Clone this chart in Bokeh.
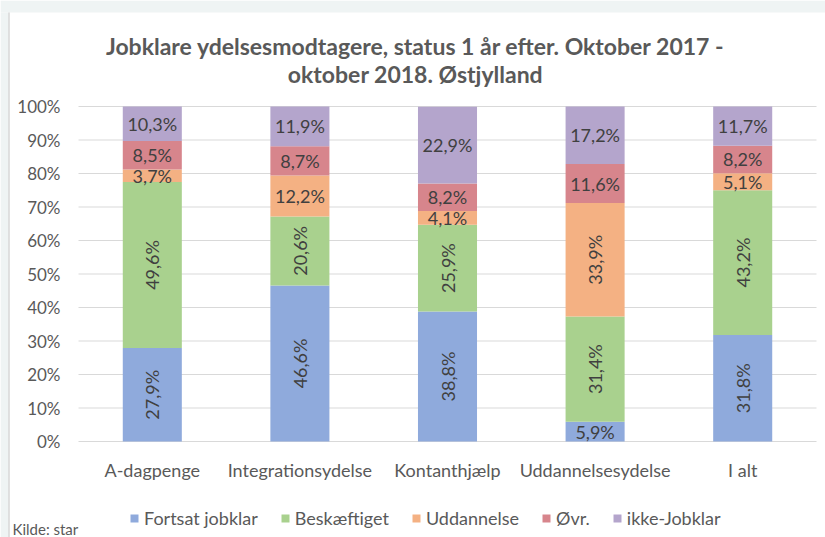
from bokeh.plotting import figure
from bokeh.models import (ColumnDataSource, Range1d, Legend, LegendItem, LinearAxis,
                          NumeralTickFormatter, FixedTicker, Label)
from bokeh.core.properties import value
from bokeh.embed import file_html
from bokeh.resources import INLINE
import math

# ---- data ----
categories = ["A-dagpenge", "Integrationsydelse", "Kontanthjælp", "Uddannelsesydelse", "I alt"]
series = ["Fortsat jobklar", "Beskæftiget", "Uddannelse", "Øvr.", "ikke-Jobklar"]
fortsat_jobklar = [27.9, 46.6, 38.8, 5.9, 31.8]
beskaeftiget = [49.6, 20.6, 25.9, 31.4, 43.2]
uddannelse = [3.7, 12.2, 4.1, 33.9, 5.1]
oevr = [8.5, 8.7, 8.2, 11.6, 8.2]
ikke_jobklar = [10.3, 11.9, 22.9, 17.2, 11.7]
y_ticks = [0, 0.1, 0.2, 0.3, 0.4, 0.5, 0.6, 0.7, 0.8, 0.9, 1.0]
title_lines = ["Jobklare ydelsesmodtagere, status 1 år efter. Oktober 2017 -",
               "oktober 2018. Østjylland"]
source_note = "Kilde: star"

# ---- style ----
colors = ["#8faadc", "#a9d18e", "#f4b183", "#d7858c", "#b4a5cc"]
FONT = "Lato"
TXT = "#595959"
LBL = "#404040"
GRID = "#d9d9d9"
BAND = "#eff4f4"
W, H = 825, 537
PX_X = 147.6   # pixels per category
PX_Y = 335.0   # pixels per 100 %
LEFT, TOP = 78, 106


def dx(px):
    return (px - LEFT) / PX_X


def dy(py):
    return (TOP + PX_Y - py) / PX_Y


ncat = len(categories)
xs = [i + 0.5 for i in range(ncat)]
x_range = Range1d(dx(0), dx(W))
y_range = Range1d(dy(H), dy(0))

values_all = [fortsat_jobklar, beskaeftiget, uddannelse, oevr, ikke_jobklar]
keys = ["s0", "s1", "s2", "s3", "s4"]
data = {"x": xs}
for k, v in zip(keys, values_all):
    data[k] = [x / 100 for x in v]
source = ColumnDataSource(data)

p = figure(x_range=x_range, y_range=y_range, width=W, height=H,
           output_backend="svg", toolbar_location=None,
           x_axis_location=None, y_axis_location=None,
           min_border=0, min_border_left=0, min_border_right=0,
           min_border_top=0, min_border_bottom=0)
p.outline_line_color = None
p.background_fill_color = "white"
p.border_fill_color = "white"
p.xgrid.grid_line_color = None
p.ygrid.grid_line_color = None

# page decoration: light band at top and left with a thin border line
p.quad(left=[dx(0), dx(0)], right=[dx(W), dx(8)], top=[dy(0), dy(12)], bottom=[dy(12), dy(H)],
       fill_color=BAND, line_color=None)
p.segment(x0=[dx(8.5)], x1=[dx(8.5)], y0=[dy(12)], y1=[dy(H)], line_color="#c4c4c4", line_width=1)

# gridlines over the plot area only
p.segment(x0=[0] * len(y_ticks), x1=[ncat] * len(y_ticks), y0=y_ticks, y1=y_ticks,
          line_color=GRID, line_width=1)

renderers = p.vbar_stack(keys, x="x", width=0.4, color=colors, source=source, line_color=None)

# data labels
lx, ly, lt, la = [], [], [], []
for ci in range(ncat):
    base = 0.0
    for si, vals in enumerate(values_all):
        v = vals[ci] / 100
        lx.append(xs[ci])
        ly.append(base + v / 2)
        base += v
        lt.append(("%.1f%%" % vals[ci]).replace(".", ","))
        rot = (si in (0, 1) and vals[ci] >= 15) or (si == 2 and vals[ci] >= 30)
        la.append(math.pi / 2 if rot else 0.0)
lsrc = ColumnDataSource(dict(x=lx, y=ly, t=lt, a=la))
p.text(x="x", y="y", text="t", angle="a", source=lsrc, text_align="center",
       text_baseline="middle", text_font=value(FONT), text_font_size="18px",
       text_color=LBL)

# axes (fixed inside the frame)
yax = LinearAxis(fixed_location=0, ticker=FixedTicker(ticks=y_ticks),
                 formatter=NumeralTickFormatter(format="0%"))
yax.axis_line_color = None
yax.major_tick_line_color = None
yax.minor_tick_line_color = None
yax.major_label_text_font = FONT
yax.major_label_text_font_size = "17px"
yax.major_label_text_color = TXT
yax.major_label_standoff = 12
p.add_layout(yax, "left")

xax = LinearAxis(fixed_location=0, ticker=FixedTicker(ticks=xs),
                 major_label_overrides={x: c for x, c in zip(xs, categories)})
xax.axis_line_color = None
xax.major_tick_line_color = None
xax.minor_tick_line_color = None
xax.major_label_text_font = FONT
xax.major_label_text_font_size = "18px"
xax.major_label_text_color = TXT
xax.major_label_standoff = 11
p.add_layout(xax, "below")

# legend
items = [LegendItem(label=s, renderers=[r]) for s, r in zip(series, renderers)]
legend = Legend(items=items, orientation="horizontal", location=(129, 8),
                label_text_font=FONT, label_text_font_size="18px",
                label_text_color=TXT, glyph_width=10, glyph_height=10,
                spacing=22, label_standoff=5, border_line_color=None,
                background_fill_alpha=0, margin=0, padding=4)
p.add_layout(legend)

# title
for line, ypx in zip(title_lines, [45, 73]):
    p.add_layout(Label(x=dx(415), y=dy(ypx), text=line, text_align="center",
                       text_baseline="middle", text_font=FONT, text_font_size="23px",
                       text_font_style="bold", text_color=TXT))

p.add_layout(Label(x=dx(12), y=dy(528), text=source_note,
                   text_align="left", text_baseline="middle", text_font=FONT,
                   text_font_size="15px", text_color=TXT))

open("out.html", "w").write(file_html(p, INLINE))
